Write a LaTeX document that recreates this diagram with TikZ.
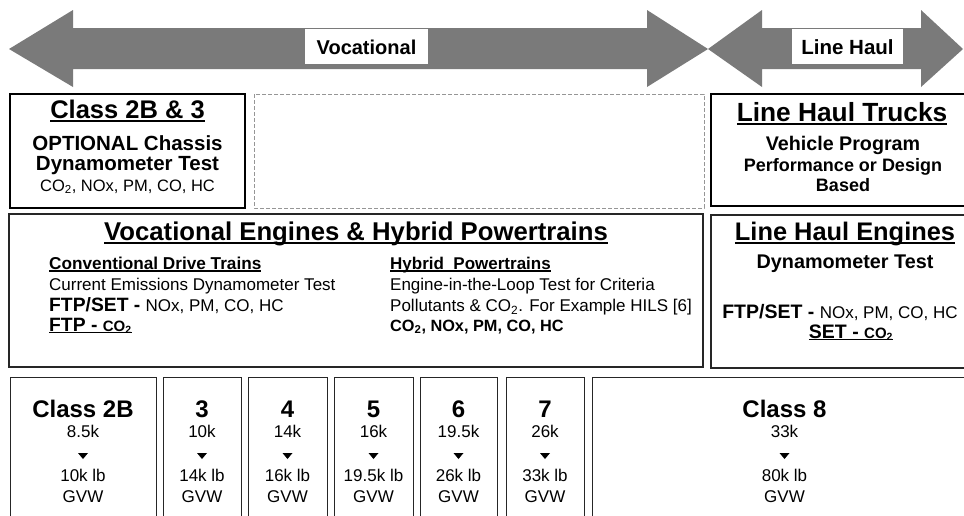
\documentclass[tikz,border=0pt]{standalone}
\usepackage{fontspec}
\setmainfont{Liberation Sans}
\newcommand\fsz[1]{\fontsize{#1}{#1}\selectfont}
\newcommand\ulx[1]{\setbox0\hbox{#1}\rlap{\rule[-0.16em]{\wd0}{0.075em}}\box0}
\definecolor{arrowgray}{RGB}{122,122,122}
\definecolor{dashgray}{RGB}{150,150,150}
\begin{document}
\begin{tikzpicture}[x=1pt,y=-1pt,
  txt/.style={inner sep=0pt, anchor=base, text=black},
  txtl/.style={inner sep=0pt, anchor=base west, text=black},
  boxline/.style={draw=black, line width=1.4pt},
  thinbox/.style={draw=black!85, line width=1pt},
  dashbox/.style={draw=dashgray, line width=1pt, dash pattern=on 4pt off 2pt},
  lbl/.style={fill=white, draw=none}]
\useasboundingbox (0,0) rectangle (964,515);
% arrows
\fill[arrowgray] (9,49) -- (73,10) -- (73,28) -- (647,28) -- (647,10) -- (708,49)
  -- (647,87) -- (647,69) -- (73,69) -- (73,87) -- cycle;
\fill[arrowgray] (708,49) -- (762,10) -- (762,28) -- (921,28) -- (921,10) -- (963,49)
  -- (921,87) -- (921,69) -- (762,69) -- (762,87) -- cycle;
\fill[lbl] (305,29) rectangle (428,64);
\fill[lbl] (792,29) rectangle (903,64);
\node[txt] (voc) at (366.5,54) {\fsz{20}\bfseries Vocational};
\node[txt] (lh) at (847.5,54) {\fsz{20.5}\bfseries Line Haul};
% top row boxes
\draw[boxline] (10,94) rectangle (245,208);
\draw[dashbox] (254,94) rectangle (704,208);
\draw[boxline] (711,94) rectangle (980,206);
\node[txt] (c23) at (127.5,118) {\fsz{25.5}\bfseries\ulx{Class 2B \& 3}};
\node[txt] (opt) at (127.5,150) {\fsz{20.5}\bfseries OPTIONAL Chassis};
\node[txt] (dyn) at (127.5,170) {\fsz{20.5}\bfseries Dynamometer Test};
\node[txt] (pol1) at (127.5,191) {\fsz{16.5}CO\textsubscript{2}, NOx, PM, CO, HC};
\node[txt] (lht) at (842,121) {\fsz{26.3}\bfseries\ulx{Line Haul Trucks}};
\node[txt] (vp) at (843,150) {\fsz{19.7}\bfseries Vehicle Program};
\node[txt] (pd) at (843,171) {\fsz{18}\bfseries Performance or Design};
\node[txt] (bs) at (843,191) {\fsz{18}\bfseries Based};
% middle row
\draw[thinbox, line width=1.3pt] (9,214) rectangle (703,367);
\draw[thinbox, line width=1.3pt] (711,215) rectangle (980,368);
\node[txt] (vet) at (356,240) {\fsz{25.7}\bfseries\ulx{Vocational Engines \& Hybrid Powertrains}};
\node[txtl] (cdt) at (49,269) {\fsz{17.2}\bfseries\ulx{Conventional Drive Trains}};
\node[txtl] (ced) at (49,290) {\fsz{17}Current Emissions Dynamometer Test};
\node[txtl] (fs1) at (49,311.5) {\fsz{19.3}\bfseries FTP/SET - \fsz{17}\mdseries NOx, PM, CO, HC};
\node[txtl] (ftp) at (49,331) {\ulx{\fsz{19.3}\bfseries FTP - \fsz{15}CO\textsubscript{2}}};
\node[txtl] (hpt) at (390,269) {\fsz{17}\bfseries\ulx{Hybrid\ \ Powertrains}};
\node[txtl] (eil) at (390,290) {\fsz{17}Engine-in-the-Loop Test for Criteria};
\node[txtl] (pce) at (390,311.5) {\fsz{17}Pollutants \& CO\textsubscript{2}. For Example HILS [6]};
\node[txtl] (pol2) at (390,331) {\fsz{16.3}\bfseries CO\textsubscript{2}, NOx, PM, CO, HC};
\node[txt] (lhe) at (845,240) {\fsz{25.4}\bfseries\ulx{Line Haul Engines}};
\node[txt] (dyn2) at (845,268) {\fsz{19.8}\bfseries Dynamometer Test};
\node[txt] (fs2) at (840,318) {\fsz{19.5}\bfseries FTP/SET - \fsz{17}\mdseries NOx, PM, CO, HC};
\node[txt] (set) at (851,338) {\ulx{\fsz{19.5}\bfseries SET - \fsz{15}CO\textsubscript{2}}};
% bottom row
\foreach \l/\r/\n/\a/\b [count=\i] in {10/156/Class 2B/8.5k/10k lb, 163/241/3/10k/14k lb,
    248/327/4/14k/16k lb, 334/413/5/16k/19.5k lb, 420/497/6/19.5k/26k lb,
    506/584/7/26k/33k lb, 592/977/Class 8/33k/80k lb}{
  \pgfmathsetmacro\cx{(\l+\r)/2}
  \draw[thinbox] (\l,377) rectangle (\r,530);
  \node[txt] (cls\i) at (\cx,417) {\fsz{24}\bfseries \n};
  \node[txt] (lo\i) at (\cx,437) {\fsz{17}\a};
  \fill[black] (\cx-5,453) -- (\cx+5,453) -- (\cx,459) -- cycle;
  \node[txt] (hi\i) at (\cx,481) {\fsz{17}\b};
  \node[txt] (gvw\i) at (\cx,502) {\fsz{17}GVW};
}
\end{tikzpicture}
\end{document}
